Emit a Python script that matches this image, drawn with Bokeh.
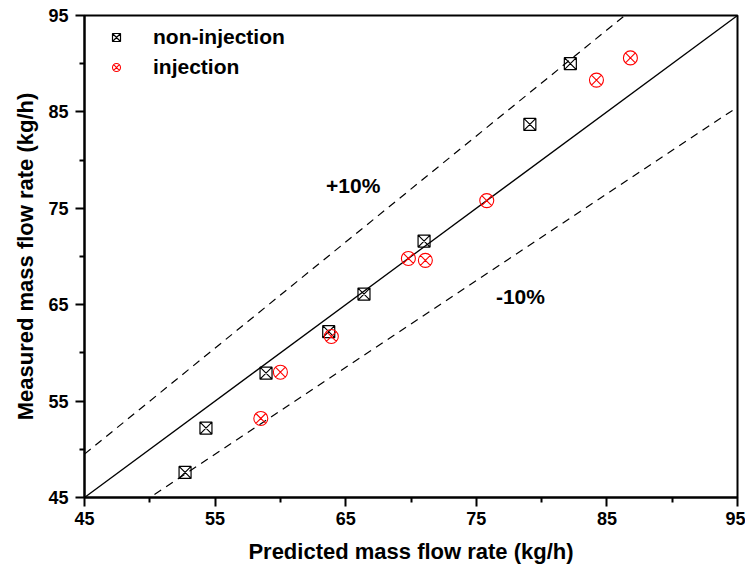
from bokeh.plotting import figure
from bokeh.models import (Range1d, LinearAxis, FixedTicker, Legend, LegendItem, Label)
from bokeh.embed import file_html
from bokeh.resources import INLINE

# ---- data ----
non_inj_pred = [52.7, 54.3, 58.9, 63.7, 66.4, 71.0, 79.1, 82.2]
non_inj_meas = [47.6, 52.2, 57.9, 62.2, 66.1, 71.6, 83.7, 90.0]
inj_pred = [58.5, 60.0, 63.9, 69.8, 71.1, 75.8, 84.2, 86.8]
inj_meas = [53.2, 58.0, 61.7, 69.8, 69.6, 75.8, 88.3, 90.6]
ref_x = [45, 95]
ref_y = [45, 95]
plus10_y = [v * 1.1 for v in ref_x]
minus10_y = [v * 0.9 for v in ref_x]
major_ticks = [45, 55, 65, 75, 85, 95]
minor_ticks = [50, 60, 70, 80, 90]

FONT = "Liberation Sans"

p = figure(width=745, height=570, output_backend="svg", toolbar_location=None,
           x_range=Range1d(45, 95), y_range=Range1d(45, 95),
           x_axis_location=None, y_axis_location=None,
           min_border_left=84, min_border_top=15, min_border_right=8, min_border_bottom=73)
p.frame_width = 653
p.frame_height = 482
p.grid.visible = False
p.outline_line_color = "black"
p.outline_line_width = 2
p.background_fill_color = "white"
p.border_fill_color = "white"


def make_axis(label):
    ax = LinearAxis(axis_label=label)
    ax.ticker = FixedTicker(ticks=major_ticks, minor_ticks=minor_ticks)
    ax.axis_line_width = 2
    ax.axis_line_color = "black"
    ax.major_tick_line_width = 2
    ax.minor_tick_line_width = 2
    ax.major_tick_out = 9
    ax.major_tick_in = 0
    ax.minor_tick_out = 5
    ax.minor_tick_in = 0
    ax.major_label_text_font = FONT
    ax.major_label_text_font_style = "bold"
    ax.major_label_text_font_size = "18px"
    ax.major_label_text_color = "black"
    ax.axis_label_text_font = FONT
    ax.axis_label_text_font_style = "bold"
    ax.axis_label_text_font_size = "22px"
    ax.axis_label_text_color = "black"
    return ax


xb = make_axis("Predicted mass flow rate (kg/h)")
xb.major_label_standoff = 5
xb.axis_label_standoff = 11
yl = make_axis("Measured mass flow rate (kg/h)")
yl.major_label_standoff = 7
yl.axis_label_standoff = 7
p.add_layout(xb, "below")
p.add_layout(yl, "left")

# reference lines
p.line(ref_x, ref_y, line_color="black", line_width=1.3)
p.line(ref_x, plus10_y, line_color="black", line_width=1.2, line_dash="8 6")
p.line(ref_x, minus10_y, line_color="black", line_width=1.2, line_dash="8 6")

r1 = p.scatter(non_inj_pred, non_inj_meas, marker="square_x", size=12,
               fill_color=None, line_color="black", line_width=1.2)
r2 = p.scatter(inj_pred, inj_meas, marker="circle_x", size=14,
               fill_color=None, line_color="red", line_width=1.1)

legend = Legend(items=[LegendItem(label="non-injection", renderers=[r1]),
                       LegendItem(label="injection", renderers=[r2])],
                location="top_left")
legend.margin = 10
legend.padding = 2
legend.glyph_width = 44
legend.label_standoff = 15
legend.spacing = 6
legend.border_line_color = None
legend.background_fill_alpha = 0
legend.label_text_font = FONT
legend.label_text_font_style = "bold"
legend.label_text_font_size = "21px"
legend.label_text_color = "black"
p.add_layout(legend)

p.add_layout(Label(x=63.5, y=77.4, text="+10%", text_font=FONT, text_font_style="bold",
                   text_font_size="21px", text_baseline="middle", text_align="left",
                   text_color="black"))
p.add_layout(Label(x=76.5, y=65.9, text="-10%", text_font=FONT, text_font_style="bold",
                   text_font_size="21px", text_baseline="middle", text_align="left",
                   text_color="black"))

open("out.html", "w").write(file_html(p, INLINE))
